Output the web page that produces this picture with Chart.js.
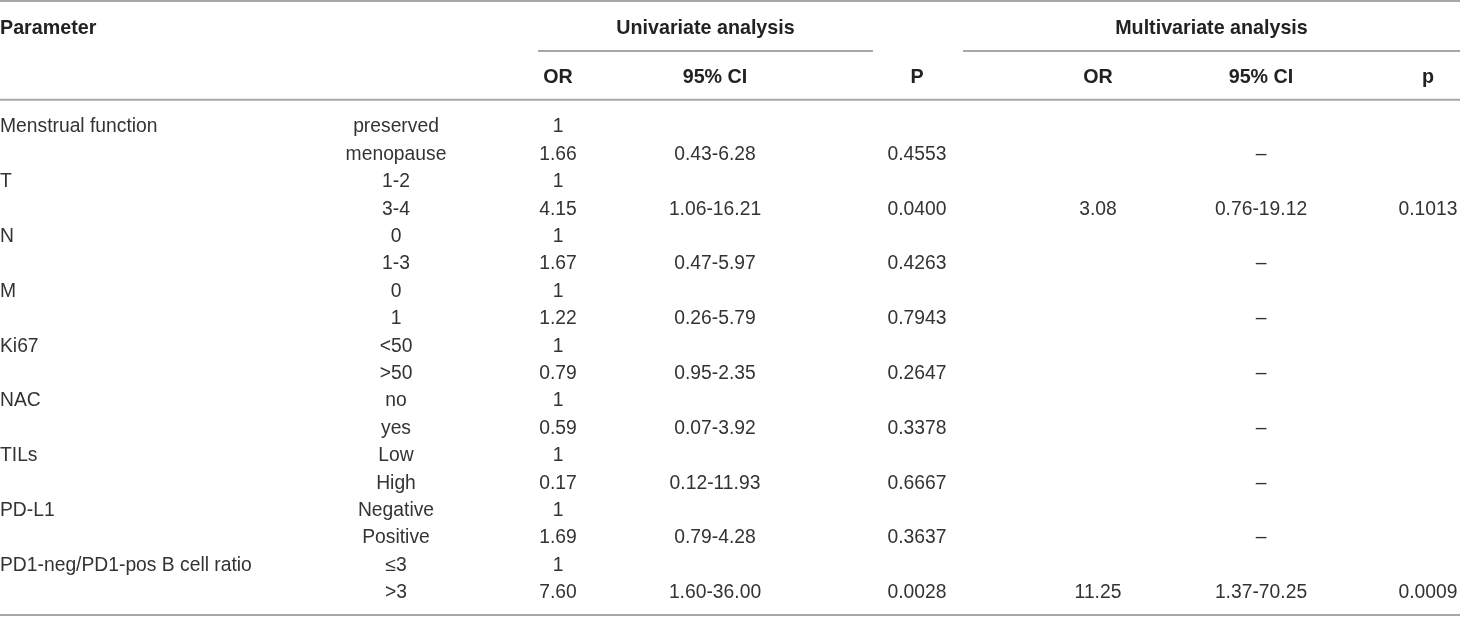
<!DOCTYPE html>
<html lang="en">
<head>
  <meta charset="UTF-8">
  <title>Univariate and multivariate analysis</title>
  <script src="https://cdn.jsdelivr.net/npm/chart.js"></script>
  <style>
    * { box-sizing: border-box; margin: 0; padding: 0; }
    body { background: #fff; width: 1460px; height: 618px; overflow: hidden; }
    canvas { display: block; }
  </style>
</head>
<body>

<canvas id="tableChart" width="1460" height="618"></canvas>

<script>
  // table content
  const parameters = ['Menstrual function', 'T', 'N', 'M', 'Ki67', 'NAC', 'TILs', 'PD-L1', 'PD1-neg/PD1-pos B cell ratio'];
  const levels = [
    ['preserved', 'menopause'], ['1-2', '3-4'], ['0', '1-3'], ['0', '1'], ['<50', '>50'],
    ['no', 'yes'], ['Low', 'High'], ['Negative', 'Positive'], ['≤3', '>3']
  ];
  const uniOR = ['1.66', '4.15', '1.67', '1.22', '0.79', '0.59', '0.17', '1.69', '7.60'];
  const uniCI = ['0.43-6.28', '1.06-16.21', '0.47-5.97', '0.26-5.79', '0.95-2.35', '0.07-3.92', '0.12-11.93', '0.79-4.28', '1.60-36.00'];
  const uniP = ['0.4553', '0.0400', '0.4263', '0.7943', '0.2647', '0.3378', '0.6667', '0.3637', '0.0028'];
  const multiOR = ['', '3.08', '', '', '', '', '', '', '11.25'];
  const multiCI = ['–', '0.76-19.12', '–', '–', '–', '–', '–', '–', '1.37-70.25'];
  const multiP = ['', '0.1013', '', '', '', '', '', '', '0.0009'];
  const headerGroups = ['Univariate analysis', 'Multivariate analysis'];
  const headerCols = ['Parameter', 'OR', '95% CI', 'P', 'OR', '95% CI', 'p'];

  // layout (table units: x across the page, y in rows)
  const colX = { param: 0, level: 396, uOR: 558, uCI: 715, uP: 917, mOR: 1098, mCI: 1261, mP: 1428 };
  const groupX = [[538, 873], [963, 1460]];
  const Y_MIN = -4.633, Y_MAX = 17.913;
  const Y_HEAD1 = -3.6, Y_SPAN = -2.77, Y_HEAD2 = -1.8, Y_TOP = -4.6, Y_RULE = -0.99, Y_BOTTOM = 17.8;

  const BODY_FONT = '19.3px "Liberation Sans", Arial, sans-serif';
  const HEAD_FONT = 'bold 19.7px "Liberation Sans", Arial, sans-serif';
  const TEXT_COLOR = '#333333';
  const HEAD_COLOR = '#222222';
  const RULE_COLOR = '#a8a8a8';

  function textSet(x, align, font, items, color) {
    return {
      type: 'scatter',
      data: items.map(it => ({ x: x, y: it.row })),
      texts: items.map(it => it.text),
      align: align,
      font: font,
      textColor: color || TEXT_COLOR,
      pointRadius: 0,
      pointHoverRadius: 0
    };
  }

  function rule(x0, x1, y) {
    return {
      type: 'line',
      data: [{ x: x0, y: y }, { x: x1, y: y }],
      borderColor: RULE_COLOR,
      borderWidth: 2,
      pointRadius: 0,
      showLine: true
    };
  }

  const paramItems = [], levelItems = [], uORItems = [], uCIItems = [], uPItems = [];
  const mORItems = [], mCIItems = [], mPItems = [];
  parameters.forEach((p, i) => {
    const r = i * 2;
    paramItems.push({ row: r, text: p });
    levelItems.push({ row: r, text: levels[i][0] });
    levelItems.push({ row: r + 1, text: levels[i][1] });
    uORItems.push({ row: r, text: '1' });
    uORItems.push({ row: r + 1, text: uniOR[i] });
    uCIItems.push({ row: r + 1, text: uniCI[i] });
    uPItems.push({ row: r + 1, text: uniP[i] });
    if (multiOR[i]) mORItems.push({ row: r + 1, text: multiOR[i] });
    if (multiCI[i]) mCIItems.push({ row: r + 1, text: multiCI[i] });
    if (multiP[i]) mPItems.push({ row: r + 1, text: multiP[i] });
  });

  const headerXs = [colX.param, colX.uOR, colX.uCI, colX.uP, colX.mOR, colX.mCI, colX.mP];

  const datasets = [
    rule(0, 1460, Y_TOP),
    rule(groupX[0][0], groupX[0][1], Y_SPAN),
    rule(groupX[1][0], groupX[1][1], Y_SPAN),
    rule(0, 1460, Y_RULE),
    rule(0, 1460, Y_BOTTOM),
    textSet(colX.param, 'left', HEAD_FONT, [{ row: Y_HEAD1, text: headerCols[0] }], HEAD_COLOR),
    textSet((groupX[0][0] + groupX[0][1]) / 2, 'center', HEAD_FONT, [{ row: Y_HEAD1, text: headerGroups[0] }], HEAD_COLOR),
    textSet((groupX[1][0] + groupX[1][1]) / 2, 'center', HEAD_FONT, [{ row: Y_HEAD1, text: headerGroups[1] }], HEAD_COLOR)
  ];
  headerCols.slice(1).forEach((h, k) => {
    datasets.push(textSet(headerXs[k + 1], 'center', HEAD_FONT, [{ row: Y_HEAD2, text: h }], HEAD_COLOR));
  });
  datasets.push(
    textSet(colX.param, 'left', BODY_FONT, paramItems),
    textSet(colX.level, 'center', BODY_FONT, levelItems),
    textSet(colX.uOR, 'center', BODY_FONT, uORItems),
    textSet(colX.uCI, 'center', BODY_FONT, uCIItems),
    textSet(colX.uP, 'center', BODY_FONT, uPItems),
    textSet(colX.mOR, 'center', BODY_FONT, mORItems),
    textSet(colX.mCI, 'center', BODY_FONT, mCIItems),
    textSet(colX.mP, 'center', BODY_FONT, mPItems)
  );

  // writes each cell's text at the point the scales place it
  const cellText = {
    id: 'cellText',
    afterDatasetsDraw(chart) {
      const ctx = chart.ctx;
      chart.data.datasets.forEach((ds, i) => {
        if (!ds.texts) return;
        const meta = chart.getDatasetMeta(i);
        ctx.save();
        ctx.font = ds.font;
        ctx.fillStyle = ds.textColor;
        ctx.textAlign = ds.align;
        ctx.textBaseline = 'middle';
        meta.data.forEach((pt, j) => {
          ctx.fillText(ds.texts[j], pt.x, pt.y);
        });
        ctx.restore();
      });
    }
  };

  new Chart(document.getElementById('tableChart'), {
    type: 'scatter',
    data: { datasets: datasets },
    options: {
      responsive: false,
      animation: false,
      events: [],
      layout: { padding: 0 },
      plugins: { legend: { display: false }, tooltip: { enabled: false } },
      scales: {
        x: { type: 'linear', min: 0, max: 1460, display: false },
        y: { type: 'linear', min: Y_MIN, max: Y_MAX, reverse: true, display: false }
      }
    },
    plugins: [cellText]
  });
</script>

</body>
</html>
